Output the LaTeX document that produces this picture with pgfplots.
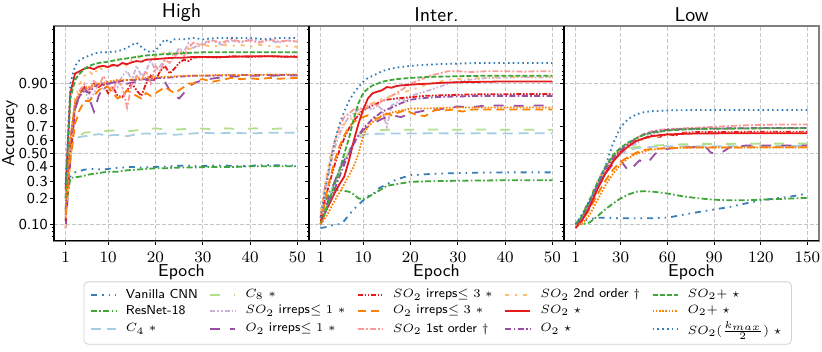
\documentclass[border=0pt]{standalone}
\usepackage{pgfplots}
\pgfplotsset{compat=1.18}
\usepgfplotslibrary{groupplots}
\renewcommand{\familydefault}{\sfdefault}

\definecolor{cblue}{HTML}{377EB8}
\definecolor{cgreen}{HTML}{3FA63A}
\definecolor{clblue}{HTML}{A6CEE3}
\definecolor{clgreen}{HTML}{B2DF8A}
\definecolor{clpurple}{HTML}{CAB2D6}
\definecolor{cpurple}{HTML}{984EA3}
\definecolor{cred}{HTML}{E41A1C}
\definecolor{corange}{HTML}{FF7F00}
\definecolor{cpink}{HTML}{FB9A99}
\definecolor{clorange}{HTML}{FDBF6F}

\pgfplotsset{
  vcnn/.style={cblue, dash pattern=on 3pt off 2.5pt on 0.8pt off 2.5pt on 0.8pt off 2.5pt},
  resnet/.style={cgreen, dash pattern=on 3pt off 1.2pt on 0.8pt off 1.2pt},
  cfour/.style={clblue, dash pattern=on 5pt off 3pt},
  ceight/.style={clgreen, dash pattern=on 5pt off 7pt},
  sotwoone/.style={clpurple, dash pattern=on 2.5pt off 1pt on 0.8pt off 1pt on 0.8pt off 1pt},
  otwoone/.style={cpurple, dash pattern=on 5pt off 5pt},
  sotwothree/.style={cred, dash pattern=on 2.5pt off 0.8pt on 0.8pt off 0.8pt on 0.8pt off 0.8pt},
  otwothree/.style={corange, dash pattern=on 4pt off 2.5pt},
  sofirst/.style={cpink, dash pattern=on 3pt off 1pt on 1pt off 1pt},
  sosecond/.style={clorange, dash pattern=on 2pt off 3pt on 1pt off 3pt},
  sotwo/.style={cred, solid},
  otwo/.style={cpurple, dash pattern=on 3pt off 1.2pt on 0.8pt off 1.2pt},
  soplus/.style={cgreen, dash pattern=on 2.5pt off 1pt},
  oplus/.style={corange, dash pattern=on 0.8pt off 0.8pt},
  sohalf/.style={cblue, dash pattern=on 0.8pt off 1.6pt},
}

\begin{document}
\begin{tikzpicture}
\begin{groupplot}[
  group style={group size=3 by 1, horizontal sep=0pt},
  scale only axis, width=127.5pt, height=107.35pt,
  y coord trafo/.code={\pgfmathparse{ln(#1/(1-#1))}},
  y coord inv trafo/.code={\pgfmathparse{1/(1+exp(-#1))}},
  ymin=0.061, ymax=0.982,
  ytick={0.1,0.5,0.9},
  extra y ticks={0.2,0.3,0.4,0.6,0.7,0.8},
  extra y tick style={grid=none},
  minor ytick={0.07,0.08,0.09,0.91,0.92,0.93,0.94,0.95,0.96,0.97,0.98},
  tick align=outside, xtick pos=left, ytick pos=left,
  major tick length=2pt, minor tick length=1.2pt,
  tick style={black, line width=0.5pt},
  xmajorgrids, ymajorgrids,
  grid style={gray!45, dash pattern=on 1.8pt off 1.2pt, line width=0.45pt},
  axis line style={gray, line width=0.9pt},
  after end axis/.code={\draw[black, line width=0.6pt] (rel axis cs:0,1) -- (rel axis cs:0,0) -- (rel axis cs:1,0);},
  tick label style={font=\fontsize{7.6}{8}\selectfont},
  yticklabel style={inner xsep=1pt},
  label style={font=\fontsize{8.6}{10}\selectfont},
  every axis title shift=0pt,
  title style={font=\fontsize{10}{12}\selectfont, yshift=-1.5pt},
  xlabel={Epoch},
  xlabel style={at={(axis description cs:0.5,-0.108)}, anchor=north, inner sep=0pt},
  ylabel style={at={(axis description cs:-0.1725,0.5)}, anchor=center, inner sep=0pt},
  every axis plot/.append style={line width=0.9pt},
  legend image code/.code={\draw[#1] (0cm,0cm) -- (0.44cm,0cm);},
]
% ---------------- High ----------------
\nextgroupplot[title={High}, ylabel={Accuracy},
  xmin=-1.45, xmax=52.45, xtick={1,10,20,30,40,50},
  yticklabels={0.10,0.50,0.90},
  extra y tick labels={0.2,0.3,0.4,0.6,0.7,0.8}]
\coordinate (tl) at (rel axis cs:0,1);
\addplot[vcnn] coordinates {(1,0.26)(2,0.33)(3,0.36)(4,0.37)(5,0.38)(7,0.385)(9,0.38)(11,0.39)(13,0.395)(15,0.40)(17,0.395)(20,0.40)(23,0.405)(26,0.41)(29,0.405)(32,0.41)(35,0.41)(38,0.405)(41,0.41)(44,0.415)(47,0.41)(50,0.41)};
\addplot[resnet] coordinates {(1,0.15)(2,0.32)(3,0.325)(4,0.33)(6,0.345)(8,0.355)(10,0.365)(12,0.365)(14,0.375)(16,0.38)(18,0.385)(20,0.39)(22,0.39)(25,0.395)(28,0.395)(31,0.40)(34,0.40)(37,0.40)(40,0.405)(43,0.405)(46,0.405)(50,0.405)};
\addplot[cfour] coordinates {(1,0.2)(2,0.55)(3,0.62)(4,0.63)(6,0.64)(8,0.65)(10,0.64)(12,0.645)(14,0.635)(16,0.65)(18,0.655)(20,0.65)(22,0.655)(24,0.645)(26,0.65)(28,0.655)(30,0.66)(33,0.655)(36,0.66)(40,0.655)(44,0.66)(47,0.66)(50,0.66)};
\addplot[ceight] coordinates {(1,0.18)(2,0.5)(3,0.62)(5,0.66)(8,0.67)(11,0.675)(14,0.67)(17,0.68)(20,0.69)(23,0.68)(26,0.685)(29,0.69)(32,0.685)(35,0.69)(38,0.685)(41,0.69)(44,0.685)(47,0.69)(50,0.69)};
\addplot[sotwoone] coordinates {(1,0.12)(2,0.55)(3,0.8)(4,0.86)(5,0.88)(6,0.84)(7,0.87)(8,0.9)(9,0.88)(10,0.9)(11,0.91)(12,0.89)(13,0.92)(14,0.93)(15,0.91)(16,0.94)(17,0.92)(18,0.93)(19,0.95)(20,0.93)(21,0.94)(22,0.95)(23,0.96)(24,0.955)(25,0.965)(26,0.96)(27,0.97)(28,0.965)(30,0.97)(32,0.972)(34,0.968)(36,0.972)(38,0.97)(40,0.973)(42,0.971)(44,0.972)(46,0.97)(48,0.972)(50,0.971)};
\addplot[otwoone] coordinates {(1,0.09)(2,0.45)(3,0.8)(4,0.87)(5,0.89)(6,0.85)(7,0.79)(8,0.86)(9,0.89)(10,0.9)(12,0.905)(14,0.9)(16,0.905)(18,0.91)(20,0.91)(22,0.905)(23,0.88)(24,0.86)(25,0.85)(26,0.87)(27,0.89)(28,0.9)(30,0.91)(33,0.915)(36,0.918)(40,0.92)(44,0.92)(47,0.921)(50,0.921)};
\addplot[sotwothree] coordinates {(1,0.11)(2,0.5)(3,0.82)(4,0.87)(5,0.89)(6,0.88)(7,0.9)(8,0.89)(9,0.9)(10,0.87)(11,0.89)(12,0.86)(13,0.855)(14,0.88)(15,0.9)(16,0.88)(17,0.86)(18,0.9)(19,0.92)(20,0.91)(21,0.93)(22,0.94)(23,0.925)(24,0.935)(25,0.945)(26,0.95)(27,0.948)(28,0.953)(30,0.954)(33,0.953)(36,0.955)(40,0.954)(44,0.955)(47,0.954)(50,0.955)};
\addplot[otwothree] coordinates {(1,0.13)(2,0.45)(3,0.72)(4,0.8)(5,0.84)(6,0.84)(7,0.86)(8,0.88)(9,0.89)(10,0.89)(11,0.87)(12,0.85)(13,0.86)(14,0.88)(15,0.87)(16,0.86)(17,0.85)(18,0.87)(19,0.86)(20,0.87)(21,0.88)(22,0.89)(23,0.88)(24,0.87)(25,0.88)(26,0.89)(27,0.9)(28,0.9)(29,0.91)(30,0.912)(32,0.905)(34,0.91)(36,0.915)(38,0.912)(40,0.914)(42,0.912)(44,0.915)(46,0.913)(48,0.914)(50,0.915)};
\addplot[sofirst] coordinates {(1,0.2)(2,0.6)(3,0.83)(4,0.88)(5,0.9)(6,0.87)(7,0.91)(8,0.89)(9,0.92)(10,0.9)(11,0.88)(12,0.91)(13,0.89)(14,0.81)(15,0.9)(16,0.92)(17,0.91)(18,0.93)(19,0.9)(20,0.94)(21,0.93)(22,0.95)(23,0.945)(24,0.955)(25,0.96)(26,0.955)(27,0.965)(28,0.97)(30,0.968)(32,0.972)(34,0.97)(36,0.973)(38,0.971)(40,0.972)(42,0.97)(44,0.973)(46,0.971)(48,0.972)(50,0.971)};
\addplot[sosecond] coordinates {(1,0.09)(2,0.55)(3,0.85)(4,0.9)(5,0.92)(6,0.93)(7,0.92)(8,0.94)(9,0.93)(10,0.945)(11,0.94)(12,0.95)(13,0.945)(14,0.94)(15,0.95)(16,0.955)(18,0.95)(20,0.955)(22,0.96)(24,0.958)(26,0.962)(28,0.965)(30,0.968)(32,0.966)(34,0.968)(36,0.967)(38,0.968)(40,0.966)(42,0.968)(44,0.967)(46,0.966)(48,0.967)(50,0.966)};
\addplot[sotwo] coordinates {(1,0.25)(2,0.87)(3,0.925)(4,0.93)(5,0.935)(6,0.937)(7,0.934)(8,0.939)(9,0.94)(10,0.938)(11,0.942)(12,0.94)(13,0.945)(14,0.943)(15,0.946)(16,0.948)(17,0.947)(18,0.95)(20,0.951)(22,0.952)(24,0.953)(26,0.953)(28,0.954)(30,0.954)(35,0.954)(40,0.955)(45,0.955)(50,0.954)};
\addplot[otwo] coordinates {(1,0.15)(2,0.6)(3,0.82)(4,0.86)(5,0.88)(6,0.87)(7,0.89)(8,0.9)(10,0.9)(12,0.905)(14,0.91)(16,0.91)(18,0.912)(20,0.915)(22,0.915)(25,0.918)(28,0.92)(31,0.92)(35,0.921)(40,0.922)(45,0.922)(50,0.922)};
\addplot[soplus] coordinates {(1,0.2)(2,0.85)(3,0.91)(4,0.925)(5,0.935)(6,0.94)(7,0.943)(8,0.945)(10,0.947)(12,0.95)(14,0.952)(16,0.954)(18,0.956)(20,0.957)(23,0.958)(26,0.959)(30,0.96)(35,0.96)(40,0.96)(45,0.96)(50,0.96)};
\addplot[oplus] coordinates {(1,0.14)(2,0.62)(3,0.84)(4,0.87)(5,0.885)(6,0.89)(7,0.895)(8,0.9)(10,0.905)(12,0.91)(14,0.91)(16,0.912)(18,0.915)(20,0.917)(23,0.918)(26,0.92)(30,0.921)(35,0.922)(40,0.922)(45,0.923)(50,0.923)};
\addplot[sohalf] coordinates {(1,0.28)(2,0.9)(3,0.94)(4,0.95)(5,0.953)(6,0.956)(7,0.958)(8,0.96)(10,0.96)(12,0.961)(14,0.965)(15,0.968)(16,0.97)(17,0.966)(18,0.962)(19,0.96)(20,0.962)(21,0.968)(22,0.973)(23,0.97)(24,0.973)(26,0.973)(28,0.974)(30,0.973)(33,0.974)(36,0.974)(40,0.974)(43,0.973)(46,0.974)(50,0.974)};
% ---------------- Inter. ----------------
\nextgroupplot[title={Inter.},
  xmin=-1.45, xmax=52.45, xtick={1,10,20,30,40,50},
  yticklabels={,,}, extra y tick labels={,,,,,},
  legend style={at={(0.505,-0.19)}, anchor=north, draw=gray!35, rounded corners=2pt,
    font=\fontsize{6.5}{7.5}\selectfont, inner xsep=3pt, inner ysep=2.5pt,
    nodes={inner ysep=1pt},
    /tikz/every odd column/.append style={column sep=2.5pt},
    /tikz/every even column/.append style={column sep=3.8pt}},
  legend columns=3, transpose legend, legend cell align=left]
\addplot[vcnn] coordinates {(1,0.09)(2,0.092)(3,0.095)(4,0.1)(5,0.1)(6,0.11)(7,0.13)(8,0.15)(9,0.17)(10,0.19)(11,0.21)(12,0.22)(13,0.25)(15,0.28)(17,0.31)(20,0.34)(25,0.35)(30,0.355)(35,0.358)(40,0.36)(45,0.36)(50,0.36)};
\addplot[resnet] coordinates {(1,0.1)(2,0.18)(3,0.24)(4,0.245)(5,0.245)(6,0.24)(7,0.235)(8,0.22)(9,0.2)(10,0.195)(11,0.205)(12,0.22)(13,0.235)(15,0.27)(17,0.28)(20,0.295)(23,0.298)(26,0.3)(30,0.302)(35,0.304)(40,0.305)(45,0.305)(50,0.305)};
\addplot[cfour] coordinates {(1,0.1)(2,0.15)(3,0.22)(4,0.3)(5,0.38)(6,0.45)(7,0.52)(8,0.58)(9,0.62)(10,0.645)(11,0.65)(13,0.652)(16,0.655)(20,0.655)(25,0.656)(30,0.655)(35,0.656)(40,0.655)(45,0.656)(50,0.656)};
\addplot[ceight] coordinates {(1,0.1)(2,0.14)(3,0.2)(4,0.28)(5,0.36)(6,0.44)(7,0.52)(8,0.59)(9,0.64)(10,0.67)(12,0.675)(15,0.68)(20,0.68)(25,0.682)(30,0.68)(35,0.682)(40,0.68)(45,0.681)(50,0.68)};
\addplot[sotwoone] coordinates {(1,0.12)(2,0.25)(3,0.4)(4,0.55)(5,0.65)(6,0.72)(7,0.76)(8,0.78)(9,0.8)(10,0.79)(11,0.81)(12,0.8)(13,0.82)(14,0.8)(15,0.7)(16,0.82)(17,0.83)(18,0.85)(19,0.84)(20,0.86)(22,0.87)(24,0.88)(26,0.89)(28,0.9)(30,0.905)(32,0.91)(34,0.912)(36,0.915)(40,0.916)(44,0.917)(47,0.916)(50,0.917)};
\addplot[otwoone] coordinates {(1,0.1)(2,0.15)(3,0.22)(4,0.3)(5,0.38)(6,0.45)(7,0.52)(8,0.58)(9,0.63)(10,0.68)(12,0.72)(14,0.75)(16,0.77)(18,0.76)(20,0.78)(22,0.79)(24,0.8)(26,0.8)(28,0.81)(30,0.815)(33,0.812)(36,0.82)(40,0.82)(43,0.818)(46,0.82)(50,0.82)};
\addplot[sotwothree] coordinates {(1,0.12)(2,0.2)(3,0.3)(4,0.42)(5,0.53)(6,0.62)(7,0.69)(8,0.74)(9,0.77)(10,0.8)(11,0.81)(12,0.82)(13,0.83)(14,0.84)(15,0.845)(17,0.85)(20,0.855)(23,0.86)(26,0.862)(30,0.864)(35,0.866)(40,0.866)(45,0.867)(50,0.867)};
\addplot[otwothree] coordinates {(1,0.1)(2,0.2)(3,0.32)(4,0.45)(5,0.56)(6,0.64)(7,0.7)(8,0.73)(9,0.75)(10,0.76)(11,0.77)(12,0.76)(13,0.75)(14,0.765)(15,0.78)(16,0.77)(17,0.78)(18,0.79)(19,0.8)(20,0.785)(21,0.775)(22,0.77)(23,0.765)(24,0.78)(25,0.795)(26,0.8)(27,0.795)(29,0.8)(31,0.79)(33,0.8)(36,0.8)(40,0.8)(44,0.8)(47,0.8)(50,0.8)};
\addplot[sofirst] coordinates {(1,0.13)(2,0.28)(3,0.45)(4,0.6)(5,0.7)(6,0.76)(7,0.78)(8,0.8)(9,0.81)(10,0.8)(11,0.82)(12,0.83)(13,0.82)(14,0.84)(15,0.85)(16,0.86)(17,0.87)(18,0.88)(19,0.89)(20,0.9)(22,0.91)(24,0.92)(26,0.925)(28,0.93)(30,0.93)(33,0.928)(36,0.93)(40,0.93)(44,0.929)(47,0.93)(50,0.93)};
\addplot[sosecond] coordinates {(1,0.14)(2,0.3)(3,0.47)(4,0.6)(5,0.68)(6,0.72)(7,0.74)(8,0.76)(9,0.78)(10,0.8)(12,0.83)(14,0.85)(16,0.86)(18,0.87)(20,0.88)(22,0.89)(24,0.9)(26,0.905)(28,0.91)(30,0.912)(35,0.915)(40,0.917)(45,0.917)(50,0.918)};
\addplot[sotwo] coordinates {(1,0.11)(2,0.14)(3,0.18)(4,0.23)(5,0.28)(6,0.33)(7,0.45)(8,0.6)(9,0.72)(10,0.8)(11,0.85)(12,0.87)(13,0.875)(14,0.88)(15,0.89)(16,0.888)(17,0.893)(18,0.895)(20,0.897)(22,0.899)(24,0.9)(26,0.902)(28,0.903)(30,0.904)(35,0.905)(40,0.906)(45,0.906)(50,0.906)};
\addplot[otwo] coordinates {(1,0.1)(2,0.14)(3,0.19)(4,0.25)(5,0.33)(6,0.42)(7,0.5)(8,0.58)(9,0.64)(10,0.69)(11,0.72)(12,0.75)(13,0.77)(14,0.79)(15,0.8)(16,0.81)(17,0.82)(18,0.83)(20,0.845)(22,0.85)(25,0.855)(28,0.857)(31,0.858)(35,0.86)(40,0.86)(45,0.86)(50,0.86)};
\addplot[soplus] coordinates {(1,0.1)(2,0.14)(3,0.2)(4,0.28)(5,0.38)(6,0.5)(7,0.62)(8,0.75)(9,0.83)(10,0.87)(11,0.885)(12,0.895)(13,0.9)(14,0.905)(15,0.908)(17,0.912)(20,0.915)(23,0.917)(26,0.918)(30,0.919)(35,0.92)(40,0.92)(45,0.92)(50,0.92)};
\addplot[oplus] coordinates {(1,0.1)(2,0.12)(3,0.15)(4,0.19)(5,0.23)(6,0.28)(7,0.34)(8,0.4)(9,0.5)(10,0.64)(11,0.7)(12,0.73)(13,0.75)(14,0.77)(15,0.775)(16,0.785)(18,0.795)(20,0.805)(23,0.805)(26,0.808)(30,0.81)(35,0.81)(40,0.81)(45,0.81)(50,0.81)};
\addplot[sohalf] coordinates {(1,0.12)(2,0.25)(3,0.42)(4,0.6)(5,0.72)(6,0.79)(7,0.84)(8,0.87)(9,0.89)(10,0.905)(11,0.915)(12,0.92)(13,0.925)(14,0.93)(15,0.933)(17,0.937)(20,0.94)(23,0.942)(26,0.943)(30,0.944)(35,0.945)(40,0.945)(45,0.945)(50,0.945)};
\legend{Vanilla CNN, ResNet-18, $C_4$ $*$, $C_8$ $*$, $SO_2$ irreps$\leq 1$ $*$, $O_2$ irreps$\leq 1$ $*$, $SO_2$ irreps$\leq 3$ $*$, $O_2$ irreps$\leq 3$ $*$, $SO_2$ 1st order $\dagger$, $SO_2$ 2nd order $\dagger$, $SO_2$ $\star$, $O_2$ $\star$, $SO_2+$ $\star$, $O_2+$ $\star$, $SO_2(\frac{k_{max}}{2})$ $\star$}
% ---------------- Low ----------------
\nextgroupplot[title={Low},
  xmin=-6.45, xmax=157.45, xtick={1,30,60,90,120,150},
  yticklabels={,,}, extra y tick labels={,,,,,}]
\addplot[vcnn] coordinates {(1,0.1)(5,0.11)(10,0.115)(15,0.12)(20,0.12)(30,0.118)(40,0.118)(50,0.118)(60,0.12)(70,0.13)(80,0.14)(90,0.15)(100,0.16)(110,0.175)(120,0.19)(130,0.2)(140,0.21)(150,0.225)};
\addplot[resnet] coordinates {(1,0.1)(5,0.1)(10,0.105)(15,0.125)(20,0.15)(25,0.175)(30,0.2)(35,0.22)(40,0.235)(45,0.238)(50,0.236)(60,0.225)(70,0.21)(80,0.2)(90,0.193)(100,0.19)(110,0.19)(120,0.193)(130,0.196)(140,0.199)(150,0.202)};
\addplot[cfour] coordinates {(1,0.1)(5,0.12)(10,0.17)(15,0.25)(20,0.35)(25,0.44)(30,0.5)(35,0.53)(40,0.545)(50,0.555)(60,0.56)(80,0.56)(100,0.56)(120,0.562)(150,0.562)};
\addplot[ceight] coordinates {(1,0.1)(5,0.12)(10,0.17)(15,0.26)(20,0.36)(25,0.45)(30,0.51)(35,0.54)(40,0.555)(50,0.565)(60,0.57)(70,0.575)(80,0.578)(100,0.578)(120,0.58)(140,0.58)(150,0.58)};
\addplot[sotwoone] coordinates {(1,0.1)(5,0.12)(10,0.18)(15,0.27)(20,0.38)(25,0.47)(30,0.53)(35,0.55)(40,0.58)(45,0.62)(50,0.65)(55,0.665)(60,0.675)(70,0.685)(80,0.688)(100,0.69)(120,0.692)(150,0.692)};
\addplot[otwoone] coordinates {(1,0.1)(5,0.12)(10,0.18)(15,0.26)(20,0.35)(25,0.42)(30,0.45)(33,0.4)(35,0.37)(38,0.4)(42,0.45)(46,0.43)(48,0.44)(52,0.5)(56,0.53)(60,0.54)(70,0.55)(80,0.555)(85,0.55)(88,0.51)(92,0.5)(96,0.52)(100,0.55)(110,0.565)(120,0.565)(130,0.565)(140,0.565)(150,0.565)};
\addplot[sotwothree] coordinates {(1,0.09)(5,0.11)(10,0.16)(15,0.25)(20,0.35)(25,0.44)(30,0.52)(35,0.57)(40,0.6)(45,0.62)(50,0.64)(55,0.63)(60,0.65)(65,0.64)(70,0.66)(80,0.665)(90,0.665)(100,0.665)(120,0.667)(150,0.667)};
\addplot[otwothree] coordinates {(1,0.1)(5,0.11)(10,0.15)(15,0.22)(20,0.3)(25,0.38)(30,0.44)(35,0.48)(40,0.51)(45,0.53)(50,0.54)(60,0.545)(70,0.55)(80,0.55)(100,0.55)(120,0.552)(150,0.552)};
\addplot[sofirst] coordinates {(1,0.1)(5,0.12)(10,0.18)(15,0.28)(20,0.39)(25,0.48)(30,0.54)(35,0.58)(40,0.62)(45,0.65)(50,0.67)(55,0.68)(60,0.685)(70,0.69)(80,0.695)(90,0.7)(100,0.705)(110,0.71)(120,0.712)(130,0.715)(150,0.715)};
\addplot[sosecond] coordinates {(1,0.1)(5,0.13)(10,0.2)(15,0.3)(20,0.4)(25,0.48)(30,0.53)(35,0.57)(40,0.6)(50,0.63)(60,0.645)(70,0.655)(90,0.66)(120,0.662)(150,0.662)};
\addplot[sotwo] coordinates {(1,0.1)(5,0.11)(10,0.16)(15,0.25)(20,0.35)(25,0.44)(30,0.51)(35,0.56)(40,0.6)(45,0.62)(50,0.635)(55,0.643)(60,0.648)(70,0.652)(80,0.655)(100,0.656)(120,0.657)(150,0.657)};
\addplot[otwo] coordinates {(1,0.1)(5,0.12)(10,0.18)(15,0.27)(20,0.38)(25,0.47)(30,0.53)(35,0.58)(40,0.62)(45,0.65)(50,0.665)(60,0.68)(70,0.685)(80,0.688)(100,0.69)(120,0.692)(150,0.693)};
\addplot[soplus] coordinates {(1,0.1)(5,0.125)(10,0.19)(15,0.29)(20,0.4)(25,0.49)(30,0.55)(35,0.59)(40,0.62)(45,0.645)(50,0.66)(60,0.675)(70,0.682)(80,0.686)(100,0.688)(120,0.69)(150,0.69)};
\addplot[oplus] coordinates {(1,0.1)(5,0.1)(10,0.13)(15,0.19)(20,0.27)(25,0.35)(30,0.42)(35,0.47)(40,0.5)(45,0.52)(50,0.535)(60,0.545)(70,0.548)(80,0.55)(100,0.55)(150,0.55)};
\addplot[sohalf] coordinates {(1,0.1)(5,0.13)(10,0.19)(15,0.27)(20,0.4)(25,0.58)(30,0.7)(35,0.75)(40,0.775)(45,0.787)(50,0.792)(60,0.796)(70,0.797)(80,0.798)(100,0.798)(120,0.798)(150,0.798)};
\end{groupplot}
\pgfresetboundingbox
\path[use as bounding box] (tl) ++(-27pt,13pt) rectangle ++(411pt,-176pt);
\end{tikzpicture}
\end{document}
